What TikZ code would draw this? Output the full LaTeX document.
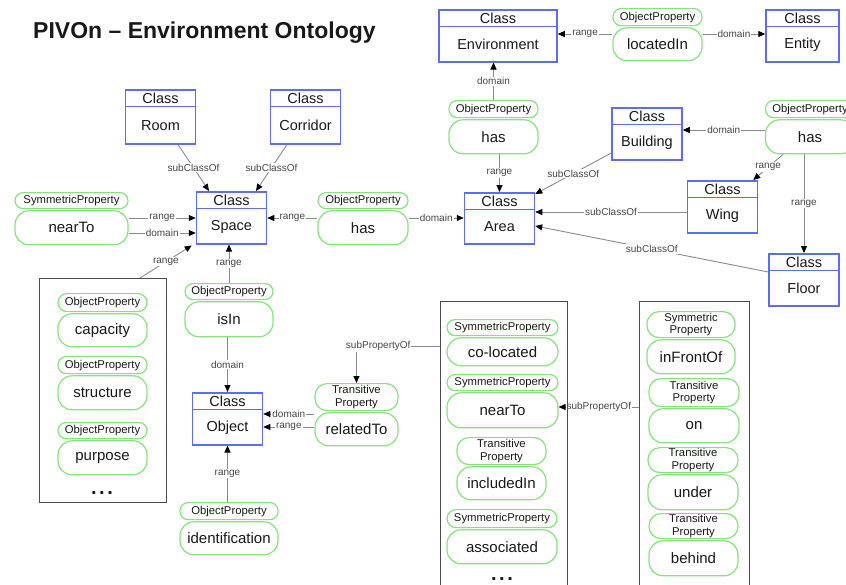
\documentclass[tikz,border=0pt]{standalone}
\usepackage{fontspec}
\setmainfont{Liberation Sans}
\usetikzlibrary{arrows.meta,calc}
\pgfdeclarelayer{background}
\pgfsetlayers{background,main}

\definecolor{clsblue}{RGB}{92,108,245}
\definecolor{propgreen}{RGB}{135,226,125}
\definecolor{linkgray}{RGB}{138,138,138}
\definecolor{lbltext}{RGB}{70,70,70}
\definecolor{grpgray}{RGB}{75,75,75}
\definecolor{ink}{RGB}{25,25,25}

\newcommand\fsz[1]{\fontsize{#1}{#1}\selectfont}
\newcommand\moredots{.\hspace{2.6pt}.\hspace{2.6pt}.}

\tikzset{
  clsbox/.style={draw=clsblue, line width=1.5pt, fill=white, inner sep=0pt},
  clsline/.style={draw=clsblue, line width=1.5pt},
  clstext/.style={font=\fsz{14.5}, text=ink, inner sep=0pt},
  typepill/.style={draw=propgreen, line width=1.2pt, fill=white, inner sep=0pt,
    font=\fontsize{11.3}{12.5}\selectfont, text=ink, align=center},
  namepill/.style={draw=propgreen, line width=1.2pt, fill=white, inner sep=0pt,
    rounded corners=14pt, font=\fsz{15}, text=ink},
  grpbox/.style={draw=grpgray, line width=1.4pt, inner sep=0pt},
  link/.style={draw=linkgray, line width=0.9pt,
    -{Triangle[length=7pt,width=6pt,color=black]}},
  lbl/.style={font=\fsz{10}, text=lbltext, fill=white, inner sep=1pt},
  dots/.style={font=\bfseries\fsz{20}, text=ink, inner sep=0pt, anchor=base},
}

% class box: name, centre x, top y, width, height, class name
\newcommand\cls[6]{%
  \node[clsbox, minimum width=#4, minimum height=#5, anchor=north] (#1) at (#2,#3) {};
  \draw[clsline] ([yshift=-17.5pt]#1.north west) -- ([yshift=-17.5pt]#1.north east);
  \node[clstext] (#1-h) at ([yshift=-9pt]#1.north) {Class};
  \node[clstext] (#1-n) at ($(#1.south)!0.5!([yshift=-17.5pt]#1.north)$) {#6};
}

% property: name, centre x, top y, width, type height, name height,
% type corner radius, type text, property name
\newcommand\prop[9]{%
  \node[typepill, minimum width=#4, minimum height=#5, rounded corners=#7pt,
        anchor=north] (#1-t) at (#2,#3) {#8};
  \node[namepill, minimum width=#4, minimum height=#6, anchor=north]
        (#1) at ([yshift=-1pt]#1-t.south) {#9};
}

\begin{document}
\begin{tikzpicture}[x=1pt,y=-1pt]
\useasboundingbox (0,0) rectangle (846,584);

\node[anchor=base west, font=\bfseries\fsz{23}, text=ink, inner sep=0pt] (title)
  at (33,38) {PIVOn -- Environment Ontology};

% group frames
\node[grpbox, minimum width=127, minimum height=224, anchor=north west] (gL) at (39,278) {};
\node[grpbox, minimum width=127, minimum height=295, anchor=north west] (gM) at (440,301) {};
\node[grpbox, minimum width=110, minimum height=295, anchor=north west] (gR) at (639,301) {};

% classes
\cls{env}{498}{9}{118}{52}{Environment}
\cls{ent}{802.5}{9}{73}{52}{Entity}
\cls{room}{160.5}{89}{70}{54}{Room}
\cls{corr}{305.5}{89}{70}{54}{Corridor}
\cls{space}{231.5}{191}{70}{52}{Space}
\cls{area}{499.5}{192}{70}{51}{Area}
\cls{bldg}{647}{107}{70}{52}{Building}
\cls{wing}{722.5}{180}{70}{52}{Wing}
\cls{floor}{804}{253}{70}{52}{Floor}
\cls{obj}{227.5}{392}{70}{52}{Object}

% properties
\prop{locIn}{657.5}{8}{89}{17}{33}{8}{ObjectProperty}{locatedIn}
\prop{hasE}{493.5}{100}{89}{17}{34}{8}{ObjectProperty}{has}
\prop{hasB}{810}{100}{89}{17}{34}{8}{ObjectProperty}{has}
\prop{nearL}{71.5}{192}{113}{16}{34}{8}{SymmetricProperty}{nearTo}
\prop{hasS}{363}{192}{90}{16}{34}{8}{ObjectProperty}{has}
\prop{isIn}{229}{283}{88}{16}{35}{8}{ObjectProperty}{isIn}
\prop{relTo}{356.5}{383}{83}{27}{33}{12}{Transitive\\Property}{relatedTo}
\prop{ident}{229}{502}{98}{17}{33}{8}{ObjectProperty}{identification}
\prop{cap}{102.5}{293}{89}{18}{33}{9}{ObjectProperty}{capacity}
\prop{struct}{102.5}{356}{89}{17}{34}{8}{ObjectProperty}{structure}
\prop{purp}{102.5}{422}{89}{16}{34}{8}{ObjectProperty}{purpose}
\prop{coloc}{502.5}{319}{111}{16}{28}{8}{SymmetricProperty}{co-located}
\prop{nearM}{502.5}{374}{111}{16}{35}{8}{SymmetricProperty}{nearTo}
\prop{incl}{501.5}{437}{89}{27}{33}{12}{Transitive\\Property}{includedIn}
\prop{assoc}{502}{509}{110}{18}{34}{9}{SymmetricProperty}{associated}
\prop{infront}{691}{311}{88}{26}{34}{12}{Symmetric\\Property}{inFrontOf}
\prop{pOn}{694}{378}{90}{28}{34}{12}{Transitive\\Property}{on}
\prop{under}{693}{447}{90}{25}{35}{12}{Transitive\\Property}{under}
\prop{behind}{693.5}{513}{89}{25}{35}{12}{Transitive\\Property}{behind}

\node[dots] (dotsL) at (102,494) {\moredots};
\node[dots] (dotsM) at (502,580) {\moredots};

% relations
\begin{pgfonlayer}{background}
\draw[link] (locIn.west |- 0,34) -- (env.east |- 0,34) node[lbl,midway]{range};
\draw[link] (locIn.east |- 0,34) -- (ent.west |- 0,34) node[lbl,midway]{domain};
\draw[link] (hasE-t.north) -- (hasE-t.north |- env.south) node[lbl,midway]{domain};
\draw[link] (area.north |- hasE.south) -- (area.north) node[lbl,midway]{range};
\draw[link] ([yshift=-46pt]bldg.north west) -- ([yshift=-2pt]area.north east) node[lbl,midway]{subClassOf};
\draw[link] (hasB.west |- 0,130) -- (bldg.east |- 0,130) node[lbl,midway]{domain};
\draw[link] ([xshift=-27pt]hasB.south) -- ([xshift=-5pt]wing.north east) node[lbl,midway]{range};
\draw[link] (floor.north |- hasB.south) -- (floor.north) node[lbl,midway]{range};
\draw[link] (wing.west |- 0,212) -- (area.east |- 0,212) node[lbl,midway]{subClassOf};
\draw[link] ([yshift=-19pt]floor.north west) -- ([yshift=-34pt]area.north east) node[lbl,midway]{subClassOf};
\draw[link] ([xshift=17.5pt]room.south) -- ([xshift=-22.5pt]space.north) node[lbl,midway]{subClassOf};
\draw[link] ([xshift=-18.5pt]corr.south) -- ([xshift=24.5pt]space.north) node[lbl,midway]{subClassOf};
\draw[link] (nearL.east |- 0,218) -- (space.west |- 0,218) node[lbl,midway]{range};
\draw[link] (nearL.east |- 0,233) -- (space.west |- 0,233) node[lbl,midway]{domain};
\draw[link] (hasS.west |- 0,218) -- (space.east |- 0,218) node[lbl,midway]{range};
\draw[link] (hasS.east |- 0,218) -- (area.west |- 0,218) node[lbl,midway]{domain};
\draw[link] ([xshift=101pt]gL.north west) -- ([xshift=-4pt,yshift=-1pt]space.south west) node[lbl,midway]{range};
\draw[link] (isIn-t.north) -- (isIn-t.north |- space.south) node[lbl,midway]{range};
\draw[link] (obj.north |- isIn.south) -- (obj.north) node[lbl,midway]{domain};
\draw[link] (relTo.west |- 0,414) -- (obj.east |- 0,414) node[lbl,midway]{domain};
\draw[link] (relTo.west |- 0,427) -- (obj.east |- 0,427) node[lbl,midway]{range};
\draw[link] (obj.south |- ident-t.north) -- (obj.south) node[lbl,midway]{range};
\draw[link] (gM.west |- 0,346) -| (relTo-t.north) node[lbl,pos=0.37]{subPropertyOf};
\draw[link] (gR.west |- 0,407) -- (nearM.east |- 0,407) node[lbl,midway]{subPropertyOf};
\end{pgfonlayer}
\end{tikzpicture}
\end{document}
